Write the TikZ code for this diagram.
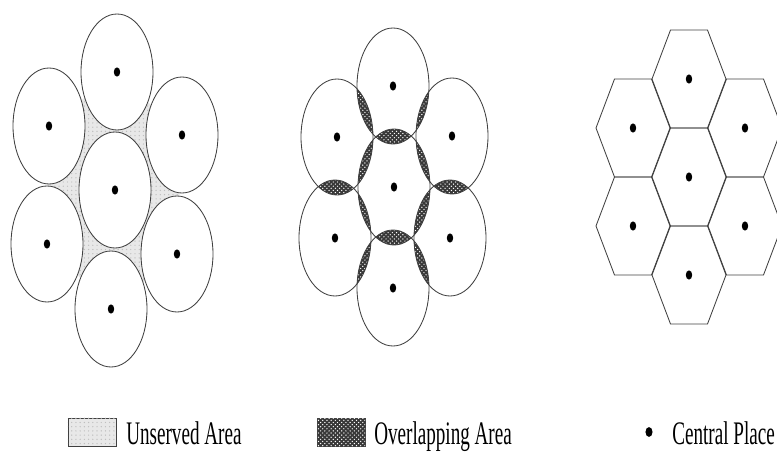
\documentclass[tikz,border=0pt]{standalone}
\usepackage{fontspec}
\setmainfont{Liberation Serif}
\usetikzlibrary{patterns}
\usetikzlibrary{shapes.geometric}

\begin{document}
\begin{tikzpicture}[x=0.025cm,y=-0.025cm]
\tikzset{
  rim/.style={draw=black!75,line width=0.6pt},
  place/.style={fill=black},
  unserved/.style={fill=black!9,postaction={pattern=dots,pattern color=black!25}},
  overlap/.style={fill=black!78,postaction={pattern=crosshatch dots,pattern color=white}},
  keybox/.style={draw=black!75,line width=0.6pt,minimum width=1.2cm,minimum height=0.7cm,inner sep=0pt},
  keydot/.style={ellipse,fill=black,inner sep=0pt,minimum width=5pt,minimum height=7pt},
  keytext/.style={font=\fontsize{13.6}{16}\selectfont,anchor=base west,inner sep=0pt,yscale=1.72},
}
\useasboundingbox (0,0) rectangle (777,452);

% tangent circles
\coordinate (u0) at (115,190);
\coordinate (u1) at (117,72);
\coordinate (u2) at (182,135);
\coordinate (u3) at (177,254);
\coordinate (u4) at (111,309);
\coordinate (u5) at (47,244);
\coordinate (u6) at (49,126);
\fill[unserved] (u1) -- (u2) -- (u3) -- (u4) -- (u5) -- (u6) -- cycle;
\foreach \i in {0,...,6}{
  \filldraw[rim,fill=white] (u\i) ellipse [x radius=36, y radius=58];
  \fill[place] (u\i) ellipse [x radius=3.2, y radius=4.6];
}

% overlapping circles
\coordinate (o0) at (394,187);
\coordinate (o1) at (393,86);
\coordinate (o2) at (452,136);
\coordinate (o3) at (450,238);
\coordinate (o4) at (393,288);
\coordinate (o5) at (335,238);
\coordinate (o6) at (337,137);
\foreach \a/\b in {0/1,0/2,0/3,0/4,0/5,0/6,1/2,2/3,3/4,4/5,5/6,6/1}{
  \begin{scope}
    \clip (o\a) ellipse [x radius=36, y radius=58];
    \fill[overlap] (o\b) ellipse [x radius=36, y radius=58];
  \end{scope}
}
\foreach \i in {0,...,6}{
  \draw[rim] (o\i) ellipse [x radius=36, y radius=58];
  \fill[place] (o\i) ellipse [x radius=3.2, y radius=4.6];
}

% hexagons
\coordinate (h0) at (689,177);
\coordinate (h1) at (689,79);
\coordinate (h2) at (745,128);
\coordinate (h3) at (745,226);
\coordinate (h4) at (689,275);
\coordinate (h5) at (633,226);
\coordinate (h6) at (633,128);
\foreach \i in {0,...,6}{
  \draw[rim,shift={(h\i)}] (-37,0) -- (-18.5,-49) -- (18.5,-49) -- (37,0) -- (18.5,49) -- (-18.5,49) -- cycle;
  \fill[place] (h\i) ellipse [x radius=3.2, y radius=4.6];
}

% key
\node[keybox,unserved] (keyu) at (92,432) {};
\node[keytext] (keyutext) at (126,444) {Unserved Area};
\node[keybox,overlap] (keyo) at (341,432) {};
\node[keytext] (keyotext) at (374,444) {Overlapping Area};
\node[keydot] (keyc) at (649,432) {};
\node[keytext] (keyctext) at (672,444) {Central Place};
\end{tikzpicture}
\end{document}
